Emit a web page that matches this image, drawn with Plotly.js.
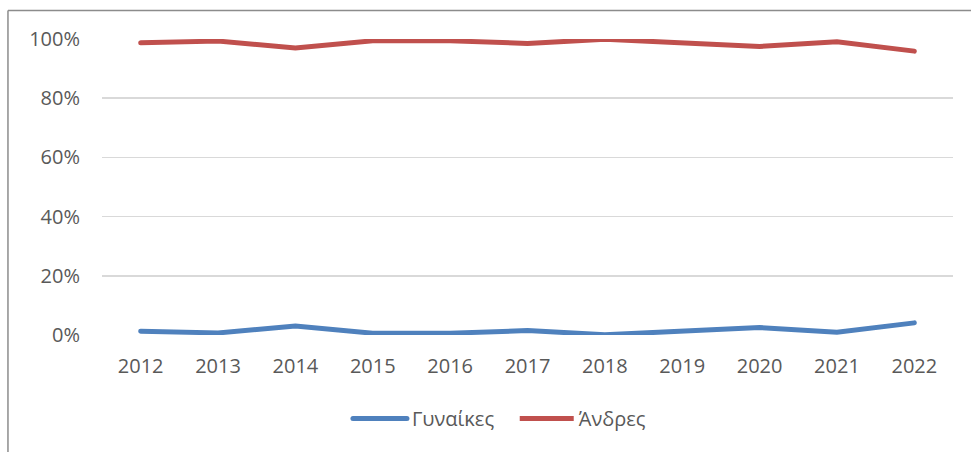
<!DOCTYPE html>
<html>
<head>
<meta charset="utf-8">
<script src="https://cdn.plot.ly/plotly-3.0.1.min.js"></script>
<style>
html,body{margin:0;padding:0;background:#fff;}
#chart{width:971px;height:452px;}
#chart .scatterlayer path.js-line, #chart .legend path.js-line{stroke-linecap:round;}
</style>
</head>
<body>
<div id="chart"></div>
<script>
var years = ["2012","2013","2014","2015","2016","2017","2018","2019","2020","2021","2022"];
var women = [0.013,0.007,0.030,0.006,0.006,0.015,0.001,0.011,0.025,0.009,0.041];
var men = [0.987,0.993,0.970,0.994,0.994,0.985,0.999,0.989,0.975,0.991,0.959];
var yTicks = [0,0.2,0.4,0.6,0.8,1.0];
var yTickText = ["0%","20%","40%","60%","80%","100%"];
var seriesNames = ["Γυναίκες","Άνδρες"];

var font = {family:"Open Sans, sans-serif", size:20, color:"#595959"};

var traces = [
  {x:years, y:women, name:seriesNames[0], type:"scatter", mode:"lines",
   line:{color:"#4F81BD", width:5}, legend:"legend"},
  {x:years, y:men, name:seriesNames[1], type:"scatter", mode:"lines",
   line:{color:"#C0504D", width:5}, legend:"legend2"}
];

var legBase = {orientation:"h", xanchor:"left", y:-0.282, yanchor:"middle",
               font:font, itemwidth:54, bgcolor:"rgba(0,0,0,0)"};

var layout = {
  width:971, height:452,
  margin:{l:102, r:18, t:39, b:117},
  paper_bgcolor:"#fff", plot_bgcolor:"#fff",
  font:font,
  showlegend:true,
  legend:Object.assign({}, legBase, {x:0.289}),
  legend2:Object.assign({}, legBase, {x:0.485}),
  xaxis:{type:"category", range:[-0.5,10.5], showgrid:false, zeroline:false,
         showline:false, ticks:"", tickfont:font, ticklabelstandoff:17, fixedrange:true},
  yaxis:{range:[0,1], tickvals:yTicks, ticktext:yTickText, showgrid:true,
         gridcolor:"#D9D9D9", gridwidth:1.5, zeroline:false, showline:false, ticks:"",
         tickfont:font, ticklabelstandoff:21, fixedrange:true},
  shapes:[
    {type:"line", xref:"paper", yref:"paper", x0:-0.1105, x1:-0.1105, y0:1.0963, y1:-0.4,
     line:{color:"#8C8C8C", width:1.5}},
    {type:"line", xref:"paper", yref:"paper", x0:-0.1105, x1:1.03, y0:1.0963, y1:1.0963,
     line:{color:"#8C8C8C", width:1.5}}
  ]
};

Plotly.newPlot("chart", traces, layout, {displayModeBar:false, staticPlot:true});
</script>
</body>
</html>
